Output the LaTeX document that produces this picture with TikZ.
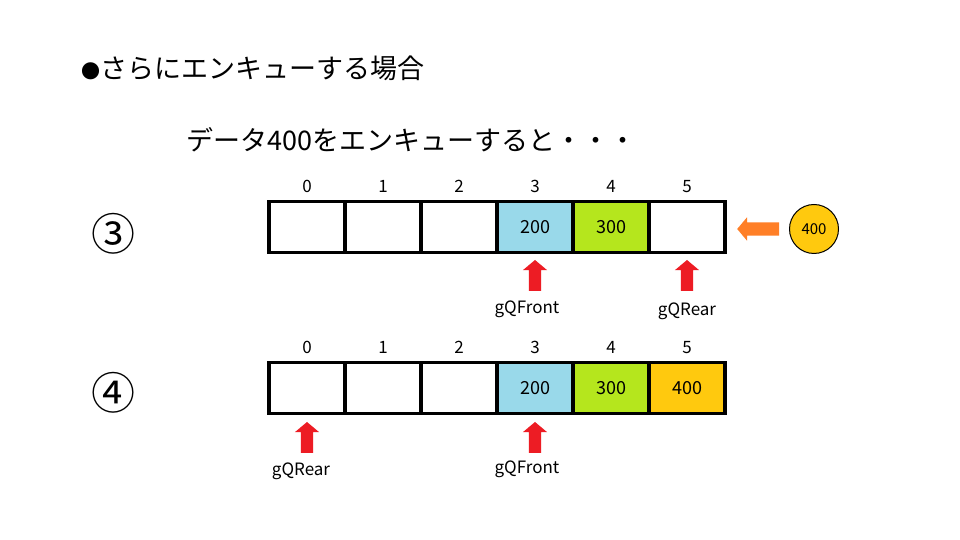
\documentclass[tikz,border=0pt]{standalone}
\usepackage{fontspec}
\setmainfont{Noto Sans CJK JP}
\usetikzlibrary{positioning,shapes.arrows}
\definecolor{qblue}{HTML}{99D9EA}
\definecolor{qgreen}{HTML}{B5E61D}
\definecolor{qyellow}{HTML}{FFC90E}
\definecolor{qred}{HTML}{ED1C24}
\definecolor{qorange}{HTML}{FF7F27}
\tikzstyle{cell} = [draw,line width=3.2pt,minimum width=76pt,minimum height=51pt,inner sep=0pt,font=\fontsize{18}{18}\selectfont]
\tikzstyle{idx} = [inner sep=0pt,font=\fontsize{17}{17}\selectfont]
\tikzstyle{ptr} = [single arrow,fill=qred,rotate=90,minimum height=31pt,inner xsep=0pt,inner ysep=6pt,single arrow head extend=6pt,single arrow tip angle=100]
\tikzstyle{ptrlbl} = [inner sep=0pt,font=\fontsize{17}{17}\selectfont]
\tikzstyle{step no} = [font=\fontsize{44}{44}\selectfont]

\begin{document}
\begin{tikzpicture}[x=1pt,y=1pt]
\useasboundingbox[fill=white] (0,0) rectangle (960,540);

\node[anchor=west,font=\fontsize{27}{27}\selectfont] (title) at (78,472) {{\fontsize{19}{19}\selectfont ●}さらにエンキューする場合};
\node[anchor=west,font=\fontsize{27}{27}\selectfont] (sub) at (183,400) {データ400をエンキューすると・・・};

% step 3
\node[step no] (s3) at (113,306) {③};
\foreach \i/\col/\val in {0/white/,1/white/,2/white/,3/qblue/200,4/qgreen/300,5/white/}{
	\node[cell,fill=\col] (a\i) at (307+76*\i,313) {\val};
	\node[idx,above=7pt of a\i] (ai\i) {\i};
}
\node[ptr] (fa) at ([yshift=-24pt]a3.south) {};
\node[ptrlbl,below=9pt of fa.west,xshift=-8pt] (fal) {gQFront};
\node[ptr] (ra) at ([yshift=-24pt]a5.south) {};
\node[ptrlbl,below=11pt of ra.west] (ral) {gQRear};
\node[single arrow,fill=qorange,rotate=180,minimum height=42pt,inner xsep=0pt,inner ysep=6.5pt,single arrow head extend=5pt,single arrow tip angle=100] (in) at (761,311) {};
\node[circle,draw,line width=1pt,fill=qyellow,minimum size=49pt,inner sep=0pt,font=\fontsize{15}{15}\selectfont] (nd) at (814,311) {400};

% step 4
\node[step no] (s4) at (113,147) {④};
\foreach \i/\col/\val in {0/white/,1/white/,2/white/,3/qblue/200,4/qgreen/300,5/qyellow/400}{
	\node[cell,fill=\col] (b\i) at (307+76*\i,152) {\val};
	\node[idx,above=7pt of b\i] (bi\i) {\i};
}
\node[ptr] (rb) at ([yshift=-25pt]b0.south) {};
\node[ptrlbl,below=9pt of rb.west,xshift=-6pt] (rbl) {gQRear};
\node[ptr] (fb) at ([yshift=-25pt]b3.south) {};
\node[ptrlbl,below=7pt of fb.west,xshift=-8pt] (fbl) {gQFront};
\end{tikzpicture}
\end{document}
